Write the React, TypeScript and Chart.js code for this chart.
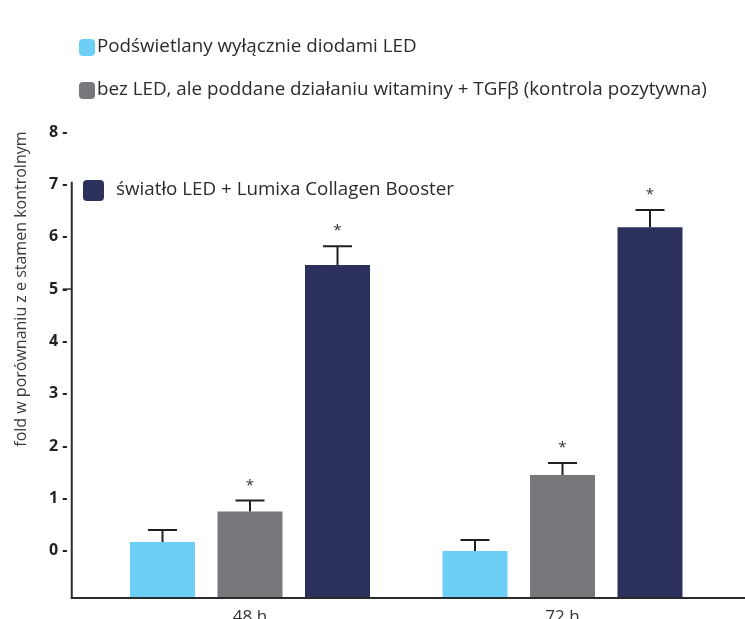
import React, { useEffect, useRef } from "react";
import { Chart, registerables } from "chart.js";

Chart.register(...registerables);

// ---- data ----
const categories = ["48 h", "72 h"];
const seriesLabels = [
  "Podświetlany wyłącznie diodami LED",
  "bez LED, ale poddane działaniu witaminy + TGFβ (kontrola pozytywna)",
  "światło LED + Lumixa Collagen Booster",
];
const seriesColors = ["#6DCFF6", "#77787B", "#2C305C"];
const ledOnly = [0.17, 0.0];
const positiveControl = [0.75, 1.45];
const ledBooster = [5.46, 6.18];
const ledOnlyErr = [0.23, 0.21];
const positiveControlErr = [0.21, 0.23];
const ledBoosterErr = [0.36, 0.33];
const ledOnlySig = [false, false];
const positiveControlSig = [true, true];
const ledBoosterSig = [true, true];
const yTicks = [0, 1, 2, 3, 4, 5, 6, 7, 8];
const yTitle = "fold w porównaniu z e stamen kontrolnym";

const FONT = "'Open Sans', 'Noto Sans', sans-serif";
const W = 745;
const H = 619;

const errorPlugin = {
  id: "errorBars",
  afterDatasetsDraw(chart: any) {
    const ctx = chart.ctx;
    const y = chart.scales.y;
    ctx.save();
    chart.data.datasets.forEach((ds: any, di: number) => {
      const meta = chart.getDatasetMeta(di);
      meta.data.forEach((el: any, i: number) => {
        const v = ds.data[i];
        const top = y.getPixelForValue(v + ds.err[i]);
        ctx.strokeStyle = "#231F20";
        ctx.lineWidth = 2;
        ctx.beginPath();
        ctx.moveTo(el.x, el.y);
        ctx.lineTo(el.x, top);
        ctx.moveTo(el.x - 14.5, top);
        ctx.lineTo(el.x + 14.5, top);
        ctx.stroke();
        if (ds.sig[i]) {
          ctx.fillStyle = "#333";
          ctx.font = `15px ${FONT}`;
          ctx.textAlign = "center";
          ctx.textBaseline = "middle";
          ctx.fillText("*", el.x, top - 15);
        }
      });
    });
    ctx.restore();
  },
};

const decorPlugin = {
  id: "decor",
  afterDraw(chart: any) {
    const ctx = chart.ctx;
    const area = chart.chartArea;
    const y = chart.scales.y;
    ctx.save();
    // axes
    ctx.strokeStyle = "#2b2b2b";
    ctx.lineWidth = 2;
    const axisX = area.left - 22;
    ctx.beginPath();
    ctx.moveTo(axisX, y.getPixelForValue(7.05));
    ctx.lineTo(axisX, area.bottom);
    ctx.lineTo(chart.width, area.bottom);
    ctx.stroke();
    ctx.lineWidth = 1.5;
    ctx.beginPath();
    ctx.moveTo(axisX - 9, y.getPixelForValue(5));
    ctx.lineTo(axisX, y.getPixelForValue(5));
    ctx.stroke();
    // y title
    ctx.fillStyle = "#3a3a3a";
    ctx.font = `16px ${FONT}`;
    ctx.textAlign = "center";
    ctx.textBaseline = "middle";
    ctx.translate(21, y.getPixelForValue(5));
    ctx.rotate(-Math.PI / 2);
    ctx.fillText(yTitle, 0, 0);
    ctx.restore();

    // legend
    ctx.save();
    const items = [
      { bx: 79, by: 39, bw: 16, bh: 17, tx: 97, ty: 47 },
      { bx: 79, by: 82, bw: 16, bh: 17, tx: 97, ty: 90 },
      { bx: 83, by: 180, bw: 21, bh: 21, tx: 116, ty: 190 },
    ];
    chart.data.datasets.forEach((ds: any, i: number) => {
      const it = items[i];
      ctx.fillStyle = ds.backgroundColor;
      ctx.beginPath();
      (ctx as any).roundRect(it.bx, it.by, it.bw, it.bh, 4);
      ctx.fill();
      ctx.fillStyle = "#2b2b2b";
      ctx.font = `18.8px ${FONT}`;
      ctx.textAlign = "left";
      ctx.textBaseline = "middle";
      ctx.fillText(ds.label, it.tx, it.ty);
    });
    ctx.restore();
  },
};

export default function App() {
  const ref = useRef<HTMLCanvasElement | null>(null);
  useEffect(() => {
    if (!ref.current) return;
    const values = [ledOnly, positiveControl, ledBooster];
    const errs = [ledOnlyErr, positiveControlErr, ledBoosterErr];
    const sigs = [ledOnlySig, positiveControlSig, ledBoosterSig];
    const chart = new Chart(ref.current, {
      type: "bar",
      data: {
        labels: categories,
        datasets: values.map((d, i) => ({
          label: seriesLabels[i],
          data: d,
          err: errs[i],
          sig: sigs[i],
          backgroundColor: seriesColors[i],
          base: -0.9,
          barPercentage: 0.743,
          categoryPercentage: 0.84,
        })) as any,
      },
      options: {
        responsive: false,
        animation: false,
        devicePixelRatio: 1,
        layout: { padding: { top: 132, right: 26.25, left: 49, bottom: 0 } },
        plugins: { legend: { display: false }, tooltip: { enabled: false } },
        scales: {
          x: {
            grid: { display: false, drawTicks: false },
            border: { display: false },
            ticks: { font: { family: FONT, size: 17 }, color: "#333", padding: 9 },
            afterFit: (s: any) => { s.height = 21; },
          },
          y: {
            min: -0.9,
            max: 8,
            grid: { display: false, drawTicks: false },
            border: { display: false },
            afterBuildTicks: (s: any) => { s.ticks = yTicks.map((v) => ({ value: v })); },
            ticks: {
              font: { family: FONT, size: 16, weight: "bold" },
              color: "#231F20",
              padding: 0,
              crossAlign: "far",
              callback: (v: any) => `${v} -`,
            },
            afterFit: (s: any) => { s.width = 44.75; },
          },
        },
      },
      plugins: [errorPlugin, decorPlugin],
    });
    return () => chart.destroy();
  }, []);
  return (
    <div style={{ position: "fixed", left: 0, top: 0, width: W, height: H, background: "#fff" }}>
      <canvas ref={ref} width={W} height={H} style={{ display: "block" }} />
    </div>
  );
}
